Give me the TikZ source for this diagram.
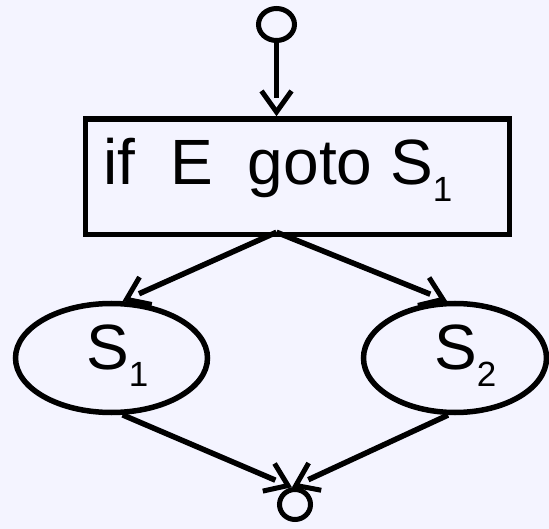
\documentclass[tikz,border=0pt]{standalone}
\usepackage{fontspec}
\setmainfont{Liberation Sans}
\usetikzlibrary{arrows.meta,shapes.geometric,decorations.markings}
\definecolor{bgcol}{RGB}{244,244,255}
\tikzset{
  flow/.style={line width=5.5pt, shorten >=18pt,
    postaction={decorate, decoration={markings,
      mark=at position 1 with {\arrow[line width=5pt]{Straight Barb[length=21pt,width=30pt]}}}}},
  oval/.style={ellipse, draw, line width=5.5pt, inner sep=0pt},
  ring/.style={ellipse, draw, line width=5pt, inner sep=0pt},
  box/.style={rectangle, draw, line width=5.5pt, inner sep=0pt},
  lbl/.style={anchor=base west, inner sep=0pt, font=\fontsize{64}{70}\selectfont},
}
\newcommand{\subidx}[1]{\raisebox{-16.5pt}{\fontsize{35}{35}\selectfont #1}}
\begin{document}
\begin{tikzpicture}[x=1pt,y=-1pt]
\useasboundingbox (0,0) rectangle (549,529);
\fill[bgcol] (0,0) rectangle (549,529);
\node[ring, minimum width=36pt, minimum height=32pt] (start) at (276.5,24.5) {};
\node[box, minimum width=424pt, minimum height=115.5pt] (cond) at (297.5,176.75) {};
\node[lbl] (condtext) at (103,185) {if\hspace{35pt}E\hspace{35pt}goto S\subidx{1}};
\node[oval, minimum width=192pt, minimum height=109pt] (s1) at (111.5,358) {};
\node[lbl] (s1text) at (86,370) {S\subidx{1}};
\node[oval, minimum width=183pt, minimum height=109pt] (s2) at (455,358) {};
\node[lbl] (s2text) at (434,370) {S\subidx{2}};
\node[ring, minimum width=31pt, minimum height=30pt] (stop) at (295,504.5) {};
\coordinate (split) at ([yshift=5pt]start.south |- cond.south);
\draw[flow] (start.south) -- (start.south |- cond.north);
\draw[flow] (split) -- (s1.79);
\draw[flow] (split) -- (s2.98);
\draw[flow] (s1.-79) -- (stop.100);
\draw[flow] (s2.-97) -- (stop.100);
\end{tikzpicture}
\end{document}
